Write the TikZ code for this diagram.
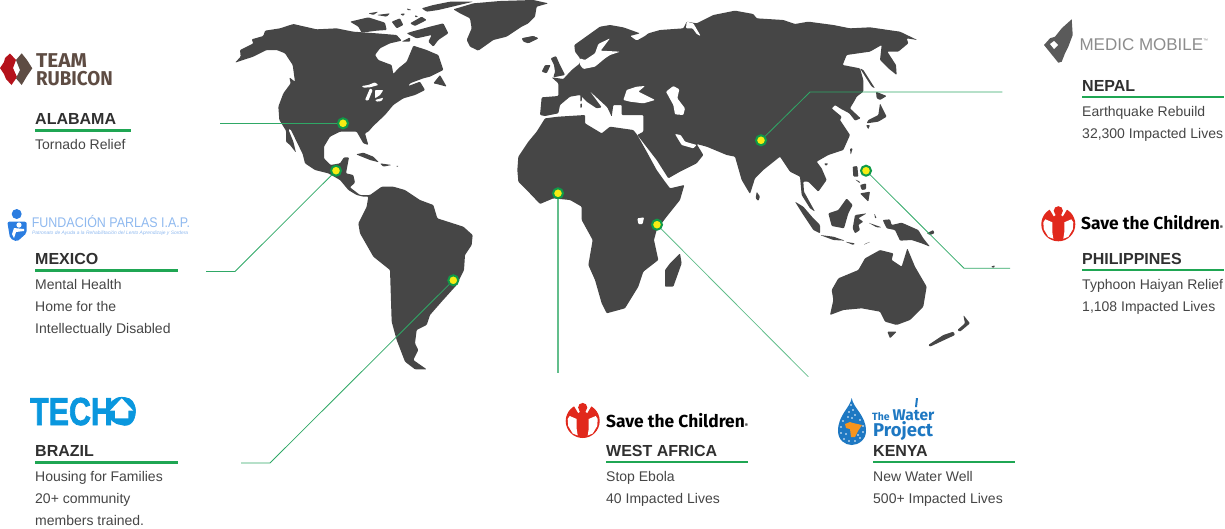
\documentclass[tikz,border=0pt]{standalone}
\usepackage{fontspec}
\setmainfont{Liberation Sans}
\newfontfamily\logofont{Fira Sans}
\newfontfamily\techofont[BoldFeatures={FakeBold=2}]{Liberation Sans}
\usepackage{tikz}
\definecolor{mapgray}{HTML}{464646}
\definecolor{leadgreen}{HTML}{2FA866}
\definecolor{rulegreen}{HTML}{1FA653}
\definecolor{dotgreen}{HTML}{0F9A48}
\definecolor{dotyellow}{HTML}{F7EC13}
\definecolor{headgray}{HTML}{303030}
\definecolor{bodygray}{HTML}{454545}
\definecolor{savered}{HTML}{E1281C}
\definecolor{rubired}{HTML}{B5121B}
\definecolor{rubibrown}{HTML}{5E4C43}
\definecolor{parlasblue}{HTML}{2B7DE0}
\definecolor{parlaslight}{HTML}{8FB9EF}
\definecolor{techoblue}{HTML}{0A97DE}
\definecolor{medicgray}{HTML}{8C8C8C}
\definecolor{wingdark}{HTML}{5A5A5A}
\definecolor{waterblue}{HTML}{1E78C2}
\definecolor{waterorange}{HTML}{F7941D}
\tikzset{
	land/.style={fill=mapgray, draw=none, rounded corners=.9pt},
	hole/.style={fill=white, draw=none, rounded corners=.9pt},
	leader/.style={draw=leadgreen, line width=.8pt},
	marker/.style={circle, draw=dotgreen, fill=dotyellow, line width=2pt, minimum size=10pt, inner sep=0pt},
	heading/.style={anchor=base west, inner sep=0pt, text=headgray, font=\fontsize{16}{16}\selectfont\bfseries},
	bodytext/.style={anchor=base west, inner sep=0pt, text=bodygray, font=\fontsize{14}{14}\selectfont},
	underline/.style={draw=rulegreen, line width=2.2pt},
	savetext/.style={anchor=base west, inner sep=0pt, text=black, font=\fontsize{17.4}{17.4}\selectfont\logofont\bfseries},
	savelogo/.pic={
		\fill[savered] (0,0) circle (17);
		\foreach \s in {-1,1} {
			\fill[white] (\s*13,-5) -- (\s*6,-2) -- (\s*6,8) -- (\s*5,14.5) -- (\s*10,12.5) -- (\s*14.5,5) -- (\s*15,-2) -- cycle;
			\fill[white] (\s*9,-15.5) -- (\s*3.5,-17.5) -- (\s*3,-9) -- (\s*4.5,-8) -- cycle;
		}
		\fill[savered] (0,-13.5) circle (4.6);
	}
}
\begin{document}
\begin{tikzpicture}[x=1pt, y=-1pt]
	\useasboundingbox (0,0) rectangle (1225,528);
	% americas, traced at three times the size
	\begin{scope}[x=.33333pt, y=-.33333pt, shift={(200pt,0pt)}]
		\fill[land] (105,188) -- (122,170) -- (120,150) -- (160,130) -- (155,118) -- (190,108) -- (195,92) -- (240,85) -- (280,72) -- (350,88) -- (410,85) -- (460,95) -- (530,100) -- (590,105) -- (605,122) -- (570,130) -- (540,145) -- (525,165) -- (535,180) -- (575,195) -- (580,222) -- (595,205) -- (620,185) -- (640,137) -- (680,150) -- (715,165) -- (730,210) -- (690,230) -- (670,235) -- (630,250) -- (625,258) -- (660,245) -- (675,270) -- (645,285) -- (610,295) -- (580,315) -- (555,345) -- (520,378) -- (505,395) -- (495,400) -- (505,435) -- (490,430) -- (470,395) -- (420,395) -- (390,410) -- (372,440) -- (372,475) -- (392,495) -- (420,490) -- (432,472) -- (447,472) -- (438,520) -- (460,525) -- (465,548) -- (450,562) -- (480,585) -- (510,585) -- (545,560) -- (580,560) -- (615,570) -- (660,600) -- (700,615) -- (712,655) -- (790,680) -- (818,705) -- (815,735) -- (795,765) -- (792,810) -- (770,855) -- (725,905) -- (690,945) -- (680,975) -- (650,990) -- (645,1030) -- (655,1050) -- (640,1080) -- (680,1108) -- (645,1108) -- (615,1085) -- (590,1020) -- (575,965) -- (570,810) -- (520,770) -- (480,700) -- (475,670) -- (500,620) -- (505,590) -- (490,590) -- (470,585) -- (445,570) -- (420,540) -- (385,520) -- (345,510) -- (315,490) -- (308,462) -- (290,425) -- (272,388) -- (265,388) -- (280,425) -- (288,458) -- (270,435) -- (258,425) -- (258,392) -- (238,360) -- (235,320) -- (250,280) -- (272,250) -- (268,232) -- (285,245) -- (278,195) -- (255,160) -- (230,150) -- (200,150) -- (160,170) -- cycle;
		% greenland, iceland, canadian islands
		\fill[land] (760,28) -- (820,10) -- (900,3) -- (1000,0) -- (1045,10) -- (1010,20) -- (1005,50) -- (985,70) -- (965,80) -- (920,110) -- (880,120) -- (835,152) -- (810,140) -- (800,120) -- (815,85) -- (810,55) -- (780,40) -- cycle;
		\fill[land] (965,115) -- (1000,108) -- (1015,115) -- (985,130) -- (970,125) -- cycle;
		\fill[land] (450,65) -- (505,52) -- (555,68) -- (560,90) -- (530,92) -- (485,98) -- (475,80) -- cycle;
		\fill[land] (635,95) -- (690,80) -- (730,70) -- (745,100) -- (715,120) -- (700,140) -- (685,125) -- (695,105) -- (650,115) -- (620,100) -- cycle;
		\fill[land] (575,65) -- (600,55) -- (610,75) -- (590,85) -- cycle;
		\fill[land] (630,70) -- (665,50) -- (680,60) -- (645,78) -- cycle;
		\fill[land] (665,25) -- (700,15) -- (750,5) -- (820,5) -- (715,30) -- (680,35) -- cycle;
		\fill[land] (605,125) -- (630,112) -- (630,125) -- cycle;
		\fill[land] (700,250) -- (720,225) -- (740,260) -- (710,252) -- cycle;
		\fill[land] (505,40) -- (535,35) -- (520,45) -- cycle;
		\fill[land] (530,45) -- (570,40) -- (560,50) -- cycle;
		\fill[land] (600,42) -- (615,40) -- (610,48) -- cycle;
		\fill[land] (620,25) -- (635,30) -- (622,30) -- cycle;
		\fill[land] (645,45) -- (655,50) -- (645,52) -- cycle;
		% lakes, caribbean
		\fill[hole] (485,258) -- (505,255) -- (525,247) -- (535,255) -- (510,262) -- (490,263) -- cycle;
		\fill[hole] (495,300) -- (510,265) -- (518,270) -- (505,302) -- cycle;
		\fill[hole] (525,270) -- (550,270) -- (540,285) -- (525,295) -- cycle;
		\fill[hole] (525,300) -- (550,293) -- (545,303) -- (530,305) -- cycle;
		\fill[land] (468,463) -- (490,458) -- (520,470) -- (537,487) -- (510,480) -- cycle;
		\fill[land] (540,490) -- (575,495) -- (550,500) -- cycle;
		\fill[land] (588,497) -- (597,498) -- (590,501) -- cycle;
	\end{scope}
	% old world
	\begin{scope}[x=.33333pt, y=-.33333pt, shift={(500pt,0pt)}]
		\fill[land] (120,345) -- (135,348) -- (175,340) -- (180,315) -- (210,290) -- (240,285) -- (260,305) -- (290,325) -- (305,322) -- (268,272) -- (322,322) -- (335,350) -- (340,315) -- (365,315) -- (365,345) -- (430,345) -- (430,395) -- (412,405) -- (470,480) -- (505,535) -- (540,515) -- (590,490) -- (610,465) -- (590,432) -- (620,440) -- (680,465) -- (705,470) -- (725,540) -- (750,582) -- (765,535) -- (790,510) -- (840,470) -- (870,515) -- (900,530) -- (905,585) -- (930,625) -- (945,635) -- (912,575) -- (910,545) -- (925,545) -- (955,575) -- (980,540) -- (965,505) -- (950,485) -- (985,465) -- (1030,450) -- (1050,405) -- (1020,360) -- (1025,350) -- (995,325) -- (1005,315) -- (1020,325) -- (1048,340) -- (1065,362) -- (1082,355) -- (1050,325) -- (1065,300) -- (1070,290) -- (1090,275) -- (1090,240) -- (1080,205) -- (1028,195) -- (1040,165) -- (1110,155) -- (1145,135) -- (1140,180) -- (1165,205) -- (1190,225) -- (1188,195) -- (1162,155) -- (1195,155) -- (1225,130) -- (1220,115) -- (1252,120) -- (1200,95) -- (1110,82) -- (1050,85) -- (1000,75) -- (925,65) -- (885,72) -- (850,60) -- (770,55) -- (760,42) -- (705,32) -- (640,45) -- (590,70) -- (560,65) -- (550,85) -- (480,90) -- (445,100) -- (435,108) -- (410,122) -- (390,108) -- (420,100) -- (370,82) -- (330,75) -- (300,80) -- (265,105) -- (223,135) -- (225,155) -- (240,175) -- (240,190) -- (215,210) -- (190,237) -- (155,232) -- (175,250) -- (175,288) -- (125,292) -- cycle;
		\fill[hole] (240,175) -- (255,180) -- (285,160) -- (295,132) -- (330,115) -- (302,152) -- (360,155) -- (330,165) -- (315,175) -- (285,200) -- (250,207) -- (240,195) -- cycle;
		\fill[hole] (370,300) -- (380,270) -- (410,260) -- (435,258) -- (415,275) -- (465,300) -- (430,310) -- (390,305) -- cycle;
		\fill[hole] (498,275) -- (520,258) -- (538,268) -- (532,295) -- (555,325) -- (550,345) -- (525,343) -- (520,315) -- cycle;
		\fill[hole] (525,402) -- (542,405) -- (555,425) -- (590,435) -- (580,445) -- (545,435) -- cycle;
		\fill[hole] (558,85) -- (560,65) -- (580,70) -- (602,108) -- (590,102) -- (578,85) -- cycle;
		% africa
		\fill[land] (55,470) -- (85,425) -- (110,395) -- (135,355) -- (175,350) -- (255,345) -- (255,370) -- (305,400) -- (330,380) -- (400,390) -- (412,405) -- (440,455) -- (470,510) -- (495,545) -- (510,565) -- (553,555) -- (540,600) -- (500,650) -- (470,690) -- (462,720) -- (475,780) -- (430,815) -- (415,860) -- (375,925) -- (320,940) -- (305,910) -- (285,840) -- (265,795) -- (278,720) -- (245,660) -- (245,620) -- (210,600) -- (160,595) -- (120,612) -- (80,570) -- (55,545) -- (52,510) -- cycle;
		\fill[hole] (412,655) -- (432,652) -- (428,672) -- (415,672) -- cycle;
		\fill[land] (540,760) -- (545,790) -- (520,860) -- (495,860) -- (495,810) -- (510,790) -- cycle;
		% europe islands
		\fill[land] (152,175) -- (168,168) -- (180,195) -- (195,225) -- (160,232) -- (165,215) -- (162,195) -- cycle;
		\fill[land] (125,215) -- (135,195) -- (152,195) -- (140,220) -- cycle;
		\fill[land] (65,115) -- (100,108) -- (115,115) -- (85,128) -- cycle;
		\fill[land] (241,285) -- (246,285) -- (245,305) -- (241,305) -- cycle;
		\fill[land] (241,310) -- (246,310) -- (245,324) -- (241,324) -- cycle;
		% east asia, indonesia
		\fill[land] (1080,205) -- (1090,210) -- (1125,265) -- (1115,260) -- cycle;
		\fill[land] (1128,275) -- (1160,288) -- (1140,300) -- (1130,295) -- cycle;
		\fill[land] (1140,310) -- (1160,350) -- (1135,365) -- (1100,370) -- (1105,360) -- (1135,345) -- cycle;
		\fill[land] (1098,375) -- (1110,375) -- (1105,388) -- cycle;
		\fill[land] (1050,445) -- (1058,445) -- (1052,465) -- cycle;
		\fill[land] (972,490) -- (985,490) -- (978,498) -- cycle;
		\fill[land] (770,575) -- (780,590) -- (775,603) -- (767,595) -- cycle;
		\fill[land] (1058,500) -- (1072,498) -- (1075,530) -- (1060,530) -- cycle;
		\fill[land] (1065,538) -- (1080,545) -- (1080,550) -- cycle;
		\fill[land] (1080,555) -- (1098,550) -- (1098,568) -- (1085,570) -- cycle;
		\fill[land] (1080,580) -- (1110,575) -- (1105,605) -- (1090,590) -- cycle;
		\fill[land] (885,605) -- (910,620) -- (940,655) -- (960,675) -- (960,700) -- (940,690) -- (910,645) -- cycle;
		\fill[land] (960,705) -- (1000,710) -- (1035,722) -- (1000,720) -- cycle;
		\fill[land] (1035,725) -- (1065,730) -- (1060,735) -- cycle;
		\fill[land] (1090,735) -- (1112,725) -- (1098,730) -- cycle;
		\fill[land] (1040,595) -- (1058,615) -- (1045,640) -- (1032,685) -- (995,678) -- (985,640) -- (1015,630) -- cycle;
		\fill[land] (1065,645) -- (1100,640) -- (1075,655) -- (1090,665) -- (1075,675) -- (1080,690) -- (1065,700) -- (1058,685) -- cycle;
		\fill[land] (1148,660) -- (1170,658) -- (1175,675) -- (1205,668) -- (1255,690) -- (1270,715) -- (1290,740) -- (1265,730) -- (1235,720) -- (1200,722) -- (1185,690) -- (1160,685) -- cycle;
		\fill[land] (1280,700) -- (1300,690) -- (1303,700) -- (1290,705) -- cycle;
		\fill[land] (1123,640) -- (1130,655) -- (1125,655) -- cycle;
		\fill[land] (1105,668) -- (1145,682) -- (1130,682) -- cycle;
		\fill[land] (1472,800) -- (1485,796) -- (1482,804) -- cycle;
		% australia, new zealand
		\fill[land] (995,870) -- (1015,835) -- (1075,810) -- (1095,775) -- (1140,750) -- (1180,760) -- (1175,780) -- (1205,800) -- (1222,745) -- (1245,800) -- (1280,860) -- (1270,920) -- (1230,960) -- (1190,975) -- (1155,965) -- (1140,935) -- (1085,925) -- (1030,930) -- (990,945) -- (1000,900) -- cycle;
		\fill[land] (1162,995) -- (1190,995) -- (1170,1015) -- cycle;
		\fill[land] (1390,945) -- (1410,970) -- (1380,995) -- (1372,990) -- (1395,970) -- cycle;
		\fill[land] (1360,995) -- (1365,1005) -- (1290,1040) -- (1285,1035) -- (1330,1005) -- cycle;
	\end{scope}
	% places
	\node[marker] (alabamaDot) at (343,123.3) {};
	\node[marker] (mexicoDot) at (336,170.7) {};
	\node[marker] (brazilDot) at (453.3,280.3) {};
	\node[marker] (africaDot) at (558,193.3) {};
	\node[marker] (kenyaDot) at (657,224.7) {};
	\node[marker] (nepalDot) at (761,140.3) {};
	\node[marker] (philippinesDot) at (866,170.7) {};
	\coordinate (alabamaEnd) at (220,123.3);
	\coordinate (mexicoBend) at (235,271.5);
	\coordinate (mexicoEnd) at (206,271.5);
	\coordinate (brazilBend) at (270,463);
	\coordinate (brazilEnd) at (241,463);
	\coordinate (africaEnd) at (558,373);
	\coordinate (kenyaEnd) at (808.3,376.7);
	\coordinate (nepalBend) at (810,92);
	\coordinate (nepalEnd) at (1002.3,92);
	\coordinate (philippinesBend) at (964,268.3);
	\coordinate (philippinesEnd) at (1010,268.3);
	\draw[leader] (alabamaDot) -- (alabamaEnd);
	\draw[leader] (mexicoDot) -- (mexicoBend) -- (mexicoEnd);
	\draw[leader] (brazilDot) -- (brazilBend) -- (brazilEnd);
	\draw[leader, line width=1.2pt, draw=leadgreen!75] (africaDot) -- (africaEnd);
	\draw[leader, draw=leadgreen!75] (kenyaDot) -- (kenyaEnd);
	\draw[leader] (nepalDot) -- (nepalBend) -- (nepalEnd);
	\draw[leader] (philippinesDot) -- (philippinesBend) -- (philippinesEnd);
	% left column
	\node[heading] (alabamaHead) at (35,124.3) {ALABAMA};
	\draw[underline] (35,130.5) -- (131,130.5);
	\node[bodytext] (alabamaLineA) at (35,149.3) {Tornado Relief};
	\node[heading] (mexicoHead) at (35,264) {MEXICO};
	\draw[underline] (35,270.5) -- (177.5,270.5);
	\node[bodytext] (mexicoLineA) at (35,289.3) {Mental Health};
	\node[bodytext] (mexicoLineB) at (35,311.3) {Home for the};
	\node[bodytext] (mexicoLineC) at (35,333.3) {Intellectually Disabled};
	\node[heading] (brazilHead) at (35,456) {BRAZIL};
	\draw[underline] (35,462.5) -- (177.5,462.5);
	\node[bodytext] (brazilLineA) at (35,481.7) {Housing for Families};
	\node[bodytext] (brazilLineB) at (35,503.7) {20+ community};
	\node[bodytext] (brazilLineC) at (35,525.7) {members trained.};
	% bottom
	\node[heading] (africaHead) at (606,456) {WEST AFRICA};
	\draw[underline] (606,462.3) -- (748,462.3);
	\node[bodytext] (africaLineA) at (606,481.3) {Stop Ebola};
	\node[bodytext] (africaLineB) at (606,503.3) {40 Impacted Lives};
	\node[heading] (kenyaHead) at (873,456) {KENYA};
	\draw[underline] (873,462.3) -- (1015,462.3);
	\node[bodytext] (kenyaLineA) at (873,481.3) {New Water Well};
	\node[bodytext] (kenyaLineB) at (873,503.3) {500+ Impacted Lives};
	% right column
	\node[heading] (nepalHead) at (1082,91) {NEPAL};
	\draw[underline] (1082,97.3) -- (1224,97.3);
	\node[bodytext] (nepalLineA) at (1082,116) {Earthquake Rebuild};
	\node[bodytext] (nepalLineB) at (1082,138) {32,300 Impacted Lives};
	\node[heading] (philippinesHead) at (1082,264.3) {PHILIPPINES};
	\draw[underline] (1082,270.3) -- (1224,270.3);
	\node[bodytext] (philippinesLineA) at (1082,289.3) {Typhoon Haiyan Relief};
	\node[bodytext] (philippinesLineB) at (1082,311.5) {1,108 Impacted Lives};
	% team rubicon
	\fill[rubired] (0,68) -- (4,62) -- (5,58) -- (10,53.5) -- (16,60) -- (13,68) -- (17,77) -- (11.5,85) -- (6,79) -- (4,74) -- cycle;
	\fill[rubibrown] (16,60) -- (21.7,53.3) -- (27,60) -- (32.3,68.3) -- (27,76) -- (21.7,85) -- (16,78.3) -- (20,70) -- cycle;
	\node[anchor=base west, inner sep=0pt, text=rubibrown, xscale=1.04, transform shape, font=\fontsize{20}{20}\selectfont\logofont\bfseries] (rubiconTop) at (36,67) {TEAM};
	\node[anchor=base west, inner sep=0pt, text=rubibrown, xscale=.94, transform shape, font=\fontsize{20}{20}\selectfont\logofont\bfseries] (rubiconBottom) at (36,85) {RUBICON};
	% parlas
	\fill[parlasblue] (16.7,214) circle (5);
	\fill[parlasblue, rounded corners=2pt] (7.3,221.7) -- (26.7,221.7) -- (26.7,233) -- (17,241.7) -- (10,238.3) -- cycle;
	\fill[white] (19,225) circle (2.6);
	\fill[white] (12,234) -- (14,228) -- (24,229) -- (24,231) -- (16,232) -- (14,238) -- cycle;
	\node[anchor=base west, inner sep=0pt, text=parlaslight, xscale=.89, transform shape, font=\fontsize{14}{14}\selectfont] (parlasName) at (31.7,227.3) {FUNDACIÓN PARLAS I.A.P.};
	\node[anchor=base west, inner sep=0pt, text=parlaslight, font=\fontsize{4.9}{4.9}\selectfont\itshape] (parlasSub) at (32,234.3) {Patronato de Ayuda a la Rehabilitación del Lento Aprendizaje y Sordera};
	% techo
	\node[anchor=base west, inner sep=0pt, text=techoblue, xscale=.78, transform shape, font=\fontsize{39}{39}\selectfont\techofont\bfseries] (techoName) at (30,425) {TECHO};
	\fill[techoblue] (121.7,410.9) circle (14);
	\fill[white] (121.7,398.3) -- (133.3,410.7) -- (128.3,410.7) -- (128.3,418.3) -- (115,418.3) -- (115,410.7) -- (110,410.7) -- cycle;
	% medic mobile
	\fill[wingdark] (1071.7,19.3) -- (1072.7,35) -- (1068.3,46.7) -- (1065,53.3) -- (1061.7,61.7) -- (1058.3,62.7) -- (1044,45) -- (1050,38.3) -- (1055,36.7) -- (1061.7,28.3) -- cycle;
	\fill[white] (1050,44) -- (1054,41) -- (1058,45) -- (1054,49) -- cycle;
	\node[anchor=base west, inner sep=0pt, text=medicgray, font=\fontsize{17}{17}\selectfont] (medicName) at (1079.3,50.7) {MEDIC MOBILE};
	\node[anchor=base west, inner sep=0pt, text=medicgray, font=\fontsize{5}{5}\selectfont] (medicMark) at (1203,42) {™};
	% save the children, twice
	\pic at (1058.3,224.3) {savelogo};
	\node[savetext] (saveNameA) at (1081,229.5) {Save the Children{\fontsize{5}{5}\selectfont ®}};
	\pic at (582.7,421) {savelogo};
	\node[savetext] (saveNameB) at (606,427) {Save the Children{\fontsize{5}{5}\selectfont ®}};
	% water project
	\fill[waterblue] (851.7,398) .. controls (853,408) and (866,415) .. (866,431) .. controls (866,440) and (858,445) .. (851.7,445) .. controls (845,445) and (838,440) .. (838,431) .. controls (838,415) and (850,408) .. (851.7,398) -- cycle;
	\foreach \a/\b in {851/405,853/410,849/412,855/415,848/417,852/418,843/421,860/420,841/427,841/433,844/439,849/441,855/441,860/438,863/432,863/426,846/434,858/435} {
		\fill[white] (\a,\b) circle (.8);
	}
	\fill[waterorange] (845,424) -- (850,422) -- (853,423) -- (862,425) -- (858,431) -- (855,437) -- (851,437) -- (850,429) -- (846,428) -- cycle;
	\fill[waterblue] (916,398) -- (918,398) -- (917,407) -- (915,407) -- cycle;
	\node[anchor=base west, inner sep=0pt, text=waterblue, font=\fontsize{10.5}{10.5}\selectfont\logofont\bfseries] (waterThe) at (872,420) {The};
	\node[anchor=base west, inner sep=0pt, text=waterblue, font=\fontsize{15.5}{15.5}\selectfont\logofont\bfseries] (waterWord) at (892.5,420) {Water};
	\node[anchor=base west, inner sep=0pt, text=waterblue, font=\fontsize{18.5}{18.5}\selectfont\logofont\bfseries] (waterProject) at (873,436) {Project};
\end{tikzpicture}
\end{document}
